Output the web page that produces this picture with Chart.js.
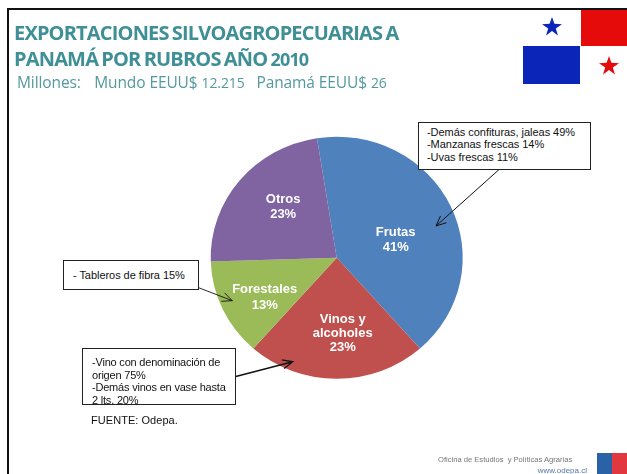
<!DOCTYPE html>
<html lang="es"><head><meta charset="utf-8">
<script src="https://cdn.jsdelivr.net/npm/chart.js@4"></script>
<style>
html,body{margin:0;padding:0;background:#fff;}
#wrap{position:relative;width:627px;height:474px;overflow:hidden;background:#fff;}
#wrap canvas{position:absolute;left:0;top:0;}
.t{position:absolute;white-space:nowrap;}
.title{font:bold 20px/26px "Open Sans",sans-serif;color:#3f8f97;left:14px;top:20px;letter-spacing:-.825px;word-spacing:-1.2px;}
.title span{font-size:18px;}
.sub{font:15.5px/18px "Open Sans",sans-serif;color:#54999f;left:17px;top:73px;letter-spacing:-.1px;}
.sub span{font-size:14px;}
.box{position:absolute;box-sizing:border-box;border:1px solid #222;border-bottom-width:1.5px;background:#fff;}
.note{font:11px/12.5px "Liberation Sans",Arial,sans-serif;color:#111;letter-spacing:-.2px;}
.fr{position:absolute;background:#111;}
.star{position:absolute;width:20px;height:19px;clip-path:polygon(50% 0,62% 36%,100% 38%,69% 60%,80% 97%,50% 74%,20% 97%,31% 60%,0 38%,38% 36%);}
</style></head><body>
<div id="wrap">
<canvas id="c" width="627" height="474"></canvas>
<div class="fr" style="left:7px;top:8px;width:620px;height:2px"></div>
<div class="fr" style="left:7px;top:8px;width:2px;height:466px"></div>
<div class="t title">EXPORTACIONES SILVOAGROPECUARIAS A<br>PANAMÁ POR RUBROS AÑO <span>2010</span></div>
<div class="t sub">Millones:&nbsp;&nbsp;&nbsp;<span style="letter-spacing:-2px">&nbsp;</span>Mundo EEUU$ <span>12.215</span>&nbsp;&nbsp; Panamá EEUU$ <span>26</span></div>

<div style="position:absolute;left:523px;top:10px;width:104px;height:74px;background:#fff">
 <div style="position:absolute;left:58px;top:0;width:46px;height:36px;background:#e60b0b"></div>
 <div style="position:absolute;left:0;top:36px;width:57px;height:38px;background:#0a25b8"></div>
 <div class="star" style="left:19px;top:7px;background:#0a25b8"></div>
 <div class="star" style="left:76px;top:46px;background:#e60b0b"></div>
</div>

<div class="box" style="left:418px;top:122px;width:173px;height:48px"></div>
<div class="t note" style="left:427px;top:125.5px;letter-spacing:-.04px">-Demás confituras, jaleas 49%<br>-Manzanas frescas 14%<br>-Uvas frescas 11%</div>
<div class="box" style="left:63px;top:260px;width:136px;height:30px"></div>
<div class="t note" style="left:73px;top:269px;letter-spacing:-.05px">- Tableros de fibra 15%</div>
<div class="box" style="left:82px;top:348px;width:154px;height:57px"></div>
<div class="t note" style="left:92px;top:356px;">-Vino con denominación de<br>origen 75%<br>-Demás vinos en vase hasta<br>2 lts. 20%</div>
<div class="t note" style="left:91px;top:414px;letter-spacing:.05px">FUENTE: Odepa.</div>

<div class="t" style="left:438px;top:455px;font:7.6px/10px 'Liberation Sans',sans-serif;color:#777;filter:blur(.4px)">Oficina de Estudios&nbsp; y Políticas Agrarias</div>
<div class="t" style="right:40px;top:466px;font:8px/10px 'Liberation Sans',sans-serif;color:#5577aa;filter:blur(.4px)">www.odepa.cl</div>
<div style="position:absolute;left:597px;top:453px;width:15px;height:21px;background:#2a62a8"></div>
<div style="position:absolute;left:612px;top:453px;width:15px;height:21px;background:#e0383e"></div>
</div>
<script>
const categories = ['Frutas', 'Vinos y alcoholes', 'Forestales', 'Otros'];
const shares = [41, 23, 13, 23];
const sliceColors = ['#4f81bd', '#c0504d', '#9bbb59', '#8064a2'];
const labelLines = [['Frutas','41%'], ['Vinos y','alcoholes','23%'], ['Forestales','13%'], ['Otros','23%']];

// The source pie is slightly wider than tall.
const stretchX = 126 / 121;
const labelNudge = [[2,8],[6,15.5],[-15,14],[-5,-12]];
const arrows = [[503,166,436,226,1],[189,284,232.3,300.7,.9],[230,378,292.7,361.7,1.4]];

const ellipse = {
  id:'ellipse',
  beforeDatasetsDraw(ch){
    const a = ch.getDatasetMeta(0).data[0];
    ch.ctx.save();
    ch.ctx.translate(a.x,0); ch.ctx.scale(stretchX,1); ch.ctx.translate(-a.x,0);
  },
  afterDatasetsDraw(ch){ ch.ctx.restore(); }
};
const annotate = {
  id:'annotate',
  afterDraw(ch){
    const ctx = ch.ctx;
    const meta = ch.getDatasetMeta(0);
    ctx.save();
    ctx.fillStyle='#fff'; ctx.textAlign='center'; ctx.textBaseline='middle';
    ctx.font='bold 13px "Liberation Sans", Arial, sans-serif';
    meta.data.forEach((arc,i)=>{
      const p = arc.getCenterPoint();
      const x = arc.x + (p.x-arc.x)*stretchX + labelNudge[i][0];
      const y = p.y + labelNudge[i][1];
      const lines = labelLines[i];
      const h = lines.length===3 ? 14 : 15.3;
      lines.forEach((s,k)=>ctx.fillText(s, x, y + (k-(lines.length-1)/2)*h));
    });
    ctx.restore();
  }
};
const arrowPlugin = {
  id:'arrowPlugin',
  afterDraw(ch){
    const ctx = ch.ctx;
    ctx.save(); ctx.strokeStyle='#111';
    arrows.forEach(([x1,y1,x2,y2,w])=>{
      const t = Math.atan2(y2-y1,x2-x1), L=11, s=.42;
      ctx.lineWidth=w;
      ctx.beginPath(); ctx.moveTo(x1,y1); ctx.lineTo(x2,y2);
      ctx.moveTo(x2-L*Math.cos(t-s),y2-L*Math.sin(t-s));
      ctx.lineTo(x2,y2);
      ctx.lineTo(x2-L*Math.cos(t+s),y2-L*Math.sin(t+s));
      ctx.stroke();
    });
    ctx.restore();
  }
};
new Chart(document.getElementById('c'),{
  type:'pie',
  data:{labels:categories,datasets:[{data:shares,backgroundColor:sliceColors,borderWidth:0}]},
  options:{
    responsive:false,animation:false,rotation:-9,
    layout:{padding:{top:136.7,bottom:95.3,left:215.7,right:169.3}},
    plugins:{legend:{display:false},tooltip:{enabled:false}}
  },
  plugins:[ellipse,annotate,arrowPlugin]
});
</script>
</body></html>
